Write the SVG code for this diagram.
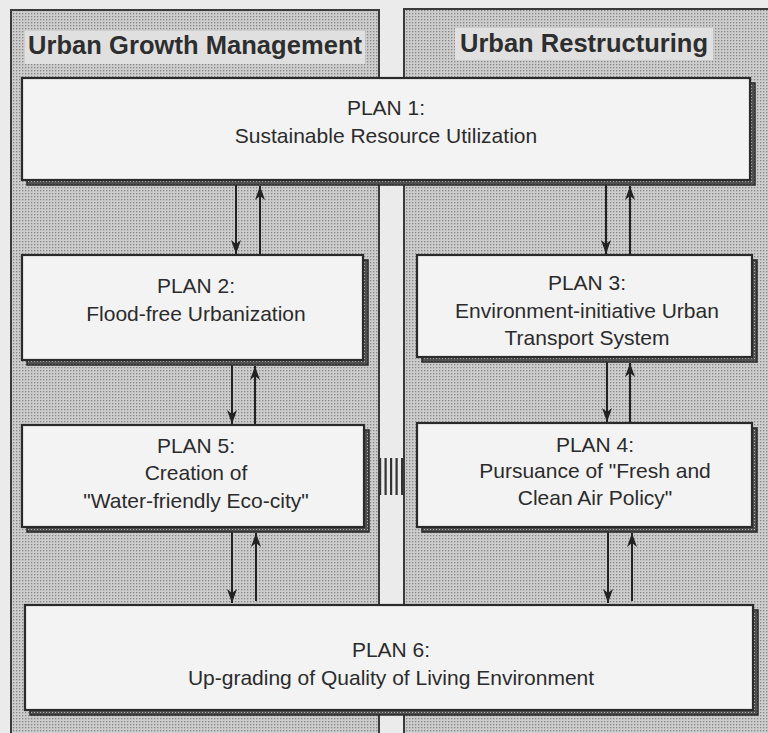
<svg xmlns="http://www.w3.org/2000/svg" width="768" height="733" viewBox="0 0 768 733">
<defs>
<pattern id="dots" width="3" height="3" patternUnits="userSpaceOnUse">
<rect width="3" height="3" fill="#cdcdcd"/>
<rect x="1" y="1" width="1.3" height="1.3" fill="#858585"/>
</pattern>
<pattern id="hatch" width="3" height="3" patternUnits="userSpaceOnUse">
<rect width="3" height="3" fill="#505050"/>
<rect x="1" y="1" width="1" height="1" fill="#b0b0b0"/>
</pattern>
<marker id="ah" viewBox="0 0 14 10" refX="14" refY="5" markerWidth="14" markerHeight="10" markerUnits="userSpaceOnUse" orient="auto">
<path d="M0,0 L14,5 L0,10 L4,5 z" fill="#222"/>
</marker>
<style>
.panel{fill:url(#dots);stroke:#3a3a3a;stroke-width:2}
.ttlbg{fill:#e0e0e0}
.ttl{font-family:"Liberation Sans",Arial,sans-serif;font-weight:bold;font-size:25.5px;fill:#2e2e2e}
.box{fill:#f3f3f3;stroke:#2a2a2a;stroke-width:2.2}
.shd{fill:url(#hatch);stroke:#2a2a2a;stroke-width:1.5}
.t{font-family:"Liberation Sans",Arial,sans-serif;font-size:21px;fill:#2b2b2b;text-anchor:middle}
.ar{stroke:#222;stroke-width:2;fill:none}
</style>
</defs>
<rect width="768" height="733" fill="#ebebeb"/>
<g id="panel-left">
<rect class="panel" x="11" y="10" width="368" height="740"/>
<rect class="ttlbg" x="25" y="31" width="340" height="33"/>
<text class="ttl" x="28" y="54" textLength="334">Urban Growth Management</text>
</g>
<g id="panel-right">
<rect class="panel" x="404" y="9" width="380" height="740"/>
<rect class="ttlbg" x="455" y="28" width="258" height="32"/>
<text class="ttl" x="460" y="52" textLength="248">Urban Restructuring</text>
</g>
<g id="link-bar" fill="#333">
<rect x="379" y="458" width="2.2" height="37"/>
<rect x="384.5" y="458" width="2.2" height="37"/>
<rect x="390" y="458" width="2.2" height="37"/>
<rect x="395.5" y="458" width="2.2" height="37"/>
<rect x="401" y="458" width="2.2" height="37"/>
</g>
<g id="connectors">
<line class="ar" x1="236" y1="185" x2="236" y2="254" marker-end="url(#ah)"/>
<line class="ar" x1="260" y1="255" x2="260" y2="186" marker-end="url(#ah)"/>
<line class="ar" x1="606" y1="185" x2="606" y2="254" marker-end="url(#ah)"/>
<line class="ar" x1="630" y1="255" x2="630" y2="186" marker-end="url(#ah)"/>
<line class="ar" x1="232" y1="365" x2="232" y2="424" marker-end="url(#ah)"/>
<line class="ar" x1="255" y1="425" x2="255" y2="366" marker-end="url(#ah)"/>
<line class="ar" x1="607" y1="362" x2="607" y2="422" marker-end="url(#ah)"/>
<line class="ar" x1="630" y1="423" x2="630" y2="363" marker-end="url(#ah)"/>
<line class="ar" x1="232" y1="532" x2="232" y2="603" marker-end="url(#ah)"/>
<line class="ar" x1="256" y1="601" x2="256" y2="533" marker-end="url(#ah)"/>
<line class="ar" x1="608" y1="532" x2="608" y2="603" marker-end="url(#ah)"/>
<line class="ar" x1="632" y1="601" x2="632" y2="533" marker-end="url(#ah)"/>
</g>
<g id="plan1">
<rect class="shd" x="27" y="83" width="728" height="102"/>
<rect class="box" x="22" y="78" width="728" height="102"/>
<text class="t" x="386" y="115">PLAN 1:</text>
<text class="t" x="386" y="143">Sustainable Resource Utilization</text>
</g>
<g id="plan2">
<rect class="shd" x="27" y="260" width="341" height="105"/>
<rect class="box" x="22" y="255" width="341" height="105"/>
<text class="t" x="196" y="293">PLAN 2:</text>
<text class="t" x="196" y="321">Flood-free Urbanization</text>
</g>
<g id="plan3">
<rect class="shd" x="422" y="260" width="335" height="102"/>
<rect class="box" x="417" y="255" width="335" height="102"/>
<text class="t" x="587" y="290">PLAN 3:</text>
<text class="t" x="587" y="318">Environment-initiative Urban</text>
<text class="t" x="587" y="345">Transport System</text>
</g>
<g id="plan5">
<rect class="shd" x="27" y="430" width="342" height="102"/>
<rect class="box" x="22" y="425" width="342" height="102"/>
<text class="t" x="196" y="453">PLAN 5:</text>
<text class="t" x="196" y="480">Creation of</text>
<text class="t" x="196" y="508">"Water-friendly Eco-city"</text>
</g>
<g id="plan4">
<rect class="shd" x="422" y="428" width="335" height="104"/>
<rect class="box" x="417" y="423" width="335" height="104"/>
<text class="t" x="595" y="452">PLAN 4:</text>
<text class="t" x="595" y="478">Pursuance of "Fresh and</text>
<text class="t" x="595" y="505">Clean Air Policy"</text>
</g>
<g id="plan6">
<rect class="shd" x="30" y="610" width="728" height="105"/>
<rect class="box" x="25" y="605" width="728" height="105"/>
<text class="t" x="391" y="657">PLAN 6:</text>
<text class="t" x="391" y="685">Up-grading of Quality of Living Environment</text>
</g>
</svg>
